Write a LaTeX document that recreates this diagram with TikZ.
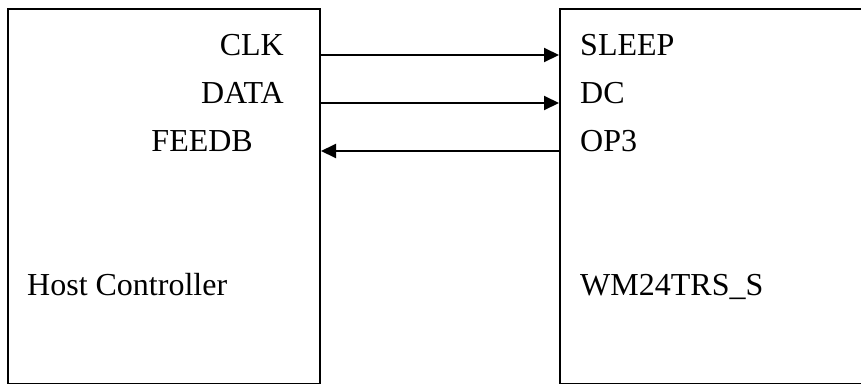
\documentclass[tikz,border=0pt]{standalone}
\usepackage{fontspec}
\setmainfont{Liberation Serif}
\usetikzlibrary{arrows.meta}
\begin{document}
\begin{tikzpicture}[x=1pt,y=-1pt,
  box/.style={draw=black,line width=2pt,rectangle,inner sep=0pt,anchor=north west},
  lbl/.style={inner sep=0pt,font=\fontsize{32}{38}\selectfont},
  sig/.style={line width=2pt,-{Triangle[length=15pt,width=14pt]}}]
\clip (0,0) rectangle (861,383);
\fill[white] (0,0) rectangle (861,383);
\node[box,minimum width=312pt,minimum height=375pt] (host) at (7,8) {};
\node[box,minimum width=320pt,minimum height=375pt] (wm) at (559,8) {};
% left labels
\node[lbl,anchor=base east] (clk) at (284,55) {CLK};
\node[lbl,anchor=base east] (data) at (284,103) {DATA};
\node[lbl,anchor=base east] (feedb) at (253,151) {FEEDB};
\node[lbl,anchor=base west] (hc) at (27,295) {Host Controller};
% right labels
\node[lbl,anchor=base west] (sleep) at (580,55) {SLEEP};
\node[lbl,anchor=base west] (dc) at (580,103) {DC};
\node[lbl,anchor=base west] (op3) at (580,151) {OP3};
\node[lbl,anchor=base west] (wmname) at (580,295) {WM24TRS\_S};
% connectors
\draw[sig] (clk.base -| host.east) -- (sleep.base -| wm.west);
\draw[sig] (data.base -| host.east) -- (dc.base -| wm.west);
\draw[sig] (op3.base -| wm.west) -- (feedb.base -| host.east);
\end{tikzpicture}
\end{document}
